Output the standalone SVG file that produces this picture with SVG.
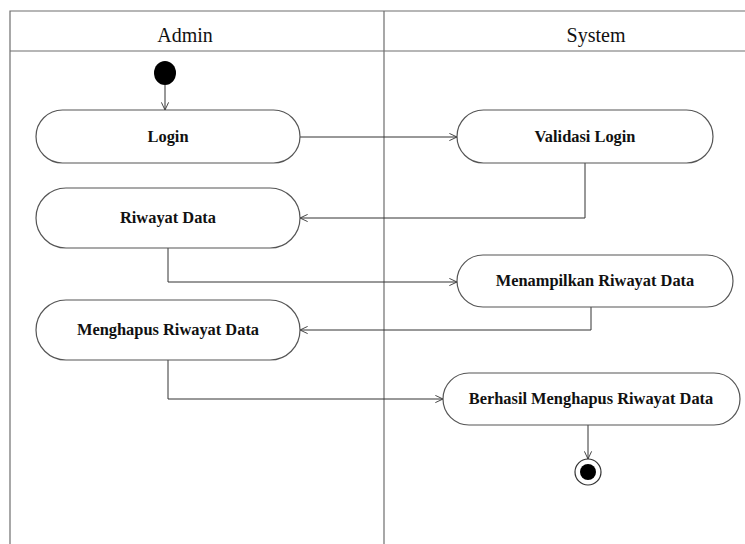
<svg xmlns="http://www.w3.org/2000/svg" width="745" height="544" viewBox="0 0 745 544">
  <defs>
    <marker id="open" viewBox="0 0 10 10" refX="9.5" refY="5" markerWidth="9" markerHeight="9" markerUnits="userSpaceOnUse" orient="auto">
      <path d="M1,1 L9.5,5 L1,9" fill="none" stroke="#333" stroke-width="1"/>
    </marker>
  </defs>
  <style>
    .frame { fill: none; stroke: #6e6e6e; stroke-width: 1.2; }
    .act { fill: #ffffff; stroke: #555555; stroke-width: 1.2; }
    .lane { font-family: "Liberation Serif", "Times New Roman", serif; font-size: 20px; fill: #111; text-anchor: middle; }
    .lbl { font-family: "Liberation Serif", "Times New Roman", serif; font-size: 16.4px; font-weight: bold; fill: #111; text-anchor: middle; }
    .flow { fill: none; stroke: #333333; stroke-width: 1; marker-end: url(#open); }
  </style>
  <rect width="745" height="544" fill="#ffffff"/>

  <!-- swimlane frame -->
  <g id="lanes">
    <path class="frame" d="M10,544 V11 H745 M10,51 H745 M384,11 V544"/>
    <text class="lane" x="185" y="42">Admin</text>
    <text class="lane" x="596" y="42">System</text>
  </g>

  <!-- control flows -->
  <g id="connectors">
    <path class="flow" d="M165,85 V110"/>
    <path class="flow" d="M300,137 H457"/>
    <path class="flow" d="M585,163 V218 H300"/>
    <path class="flow" d="M168,248 V282 H457"/>
    <path class="flow" d="M591,307 V330 H300"/>
    <path class="flow" d="M168,360 V399 H443"/>
    <path class="flow" d="M588,425 V459"/>
  </g>

  <g id="start">
    <ellipse cx="165" cy="73" rx="11" ry="12" fill="#000"/>
  </g>

  <g id="login">
    <rect class="act" x="36" y="110" width="264" height="53" rx="26.5"/>
    <text class="lbl" x="168" y="142">Login</text>
  </g>

  <g id="validasi-login">
    <rect class="act" x="457" y="110" width="256" height="53" rx="26.5"/>
    <text class="lbl" x="585" y="142">Validasi Login</text>
  </g>

  <g id="riwayat-data">
    <rect class="act" x="36" y="188" width="264" height="60" rx="30"/>
    <text class="lbl" x="168" y="223">Riwayat Data</text>
  </g>

  <g id="menampilkan-riwayat-data">
    <rect class="act" x="457" y="255" width="276" height="52" rx="26"/>
    <text class="lbl" x="595" y="286">Menampilkan Riwayat Data</text>
  </g>

  <g id="menghapus-riwayat-data">
    <rect class="act" x="36" y="300" width="264" height="60" rx="30"/>
    <text class="lbl" x="168" y="335">Menghapus Riwayat Data</text>
  </g>

  <g id="berhasil-menghapus">
    <rect class="act" x="443" y="373" width="297" height="52" rx="26"/>
    <text class="lbl" x="591" y="404">Berhasil Menghapus Riwayat Data</text>
  </g>

  <g id="end">
    <circle cx="588" cy="472" r="13" fill="#fff" stroke="#333" stroke-width="1.2"/>
    <circle cx="588" cy="472" r="8" fill="#000"/>
  </g>
</svg>
